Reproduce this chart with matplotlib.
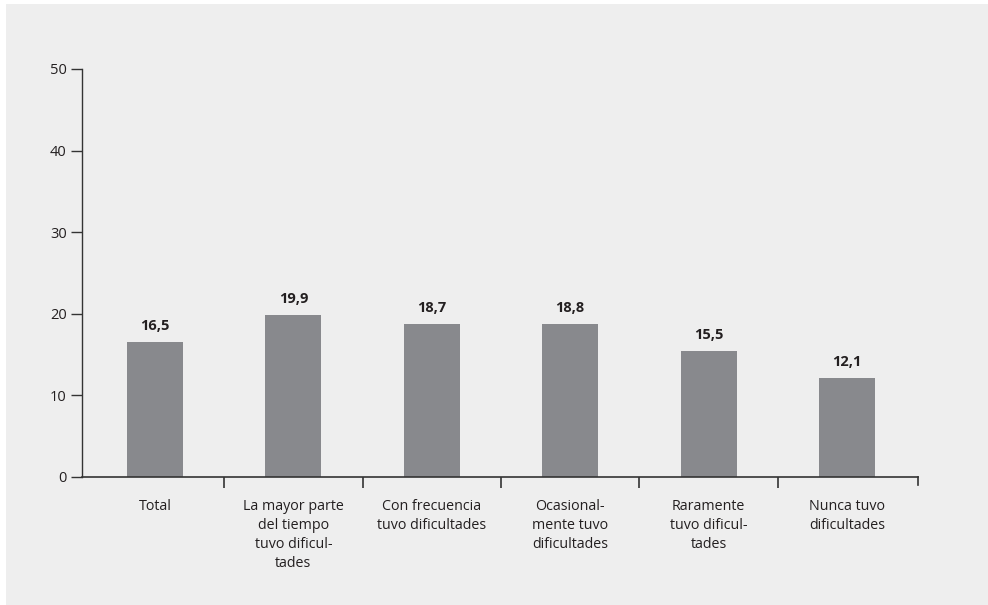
import matplotlib
matplotlib.use("Agg")
import matplotlib.pyplot as plt
from matplotlib.patches import Rectangle
import numpy as np

categories = ["Total", "La mayor parte\ndel tiempo\ntuvo dificul-\ntades", "Con frecuencia\ntuvo dificultades",
              "Ocasional-\nmente tuvo\ndificultades", "Raramente\ntuvo dificul-\ntades", "Nunca tuvo\ndificultades"]
values = [16.5, 19.9, 18.7, 18.8, 15.5, 12.1]
value_labels = ["16,5", "19,9", "18,7", "18,8", "15,5", "12,1"]
yticks = [0, 10, 20, 30, 40, 50]

plt.rcParams['font.family'] = ['Open Sans', 'DejaVu Sans']
W, H = 988, 605
fig = plt.figure(figsize=(W/100, H/100), dpi=100, facecolor="white")
fig.patches.append(Rectangle((6/W, -0.01), 1.0, 1.01 - 4/H, transform=fig.transFigure,
                             facecolor="#eeeeee", edgecolor="none", zorder=-1))

ax = fig.add_axes([82/W, 1 - 477/H, (918 - 82)/W, (477 - 69)/H])
ax.set_facecolor("none")
x = np.arange(len(categories))
ax.bar(x, values, width=0.405, color="#88898d", zorder=2)
for xi, v, lab in zip(x, values, value_labels):
    ax.text(xi, v + 1.1, lab, ha="center", va="bottom", fontsize=10.5, fontweight="bold", color="#231f20")

ax.set_xlim(-0.527, len(categories) - 0.487)
ax.set_ylim(0, 50)
ax.set_yticks(yticks)
ax.set_yticklabels([str(t) for t in yticks], fontsize=10.5, color="#231f20")
ax.set_xticks(np.arange(1, len(categories)) - 0.5)
ax.set_xticklabels([])
ax.set_xticks(x, minor=True)
ax.set_xticklabels(categories, minor=True, fontsize=10.3, color="#231f20", linespacing=1.36, va="top")
ax.tick_params(axis="x", which="minor", length=0, pad=16)
ax.tick_params(axis="x", which="major", direction="out", length=8, width=1.2, color="#333333")
ax.tick_params(axis="y", direction="out", length=8, width=1.0, color="#333333", pad=3)
ax.spines["top"].set_visible(False)
ax.spines["right"].set_visible(False)
ax.spines["left"].set_color("#333333")
ax.spines["bottom"].set_color("#333333")
ax.spines["left"].set_linewidth(1.0)
ax.spines["bottom"].set_linewidth(1.2)
# end tick at right of x axis
ax.axvline(len(categories) - 0.487, ymin=-8/408, ymax=0, color="#333333", lw=1.2, clip_on=False)

fig.savefig("out.png", dpi=100, facecolor="white")
